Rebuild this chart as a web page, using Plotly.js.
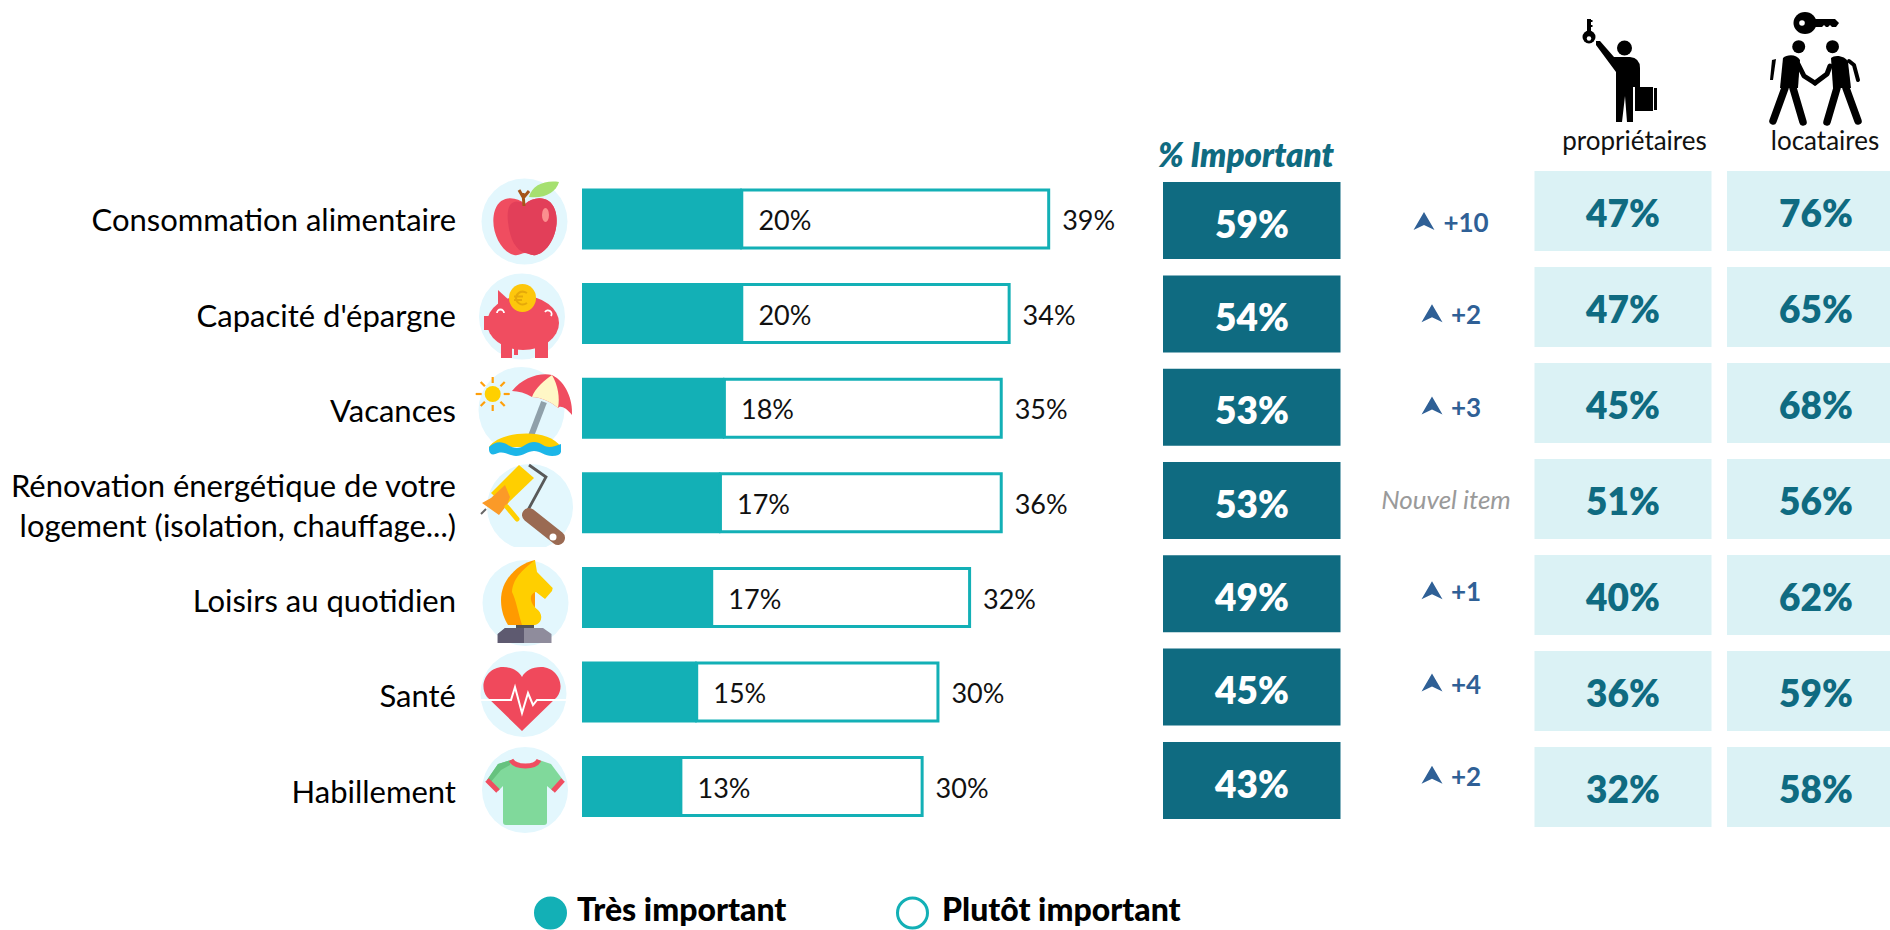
<!DOCTYPE html>
<html><head><meta charset="utf-8">
<script src="https://cdn.plot.ly/plotly-3.0.1.min.js"></script>
<style>html,body{margin:0;padding:0;background:#fff;overflow:hidden}</style>
</head><body><div id="chart" style="width:1890px;height:930px"></div>
<script>
const categories = ["Consommation alimentaire","Capacité d'épargne","Vacances","Rénovation énergétique de votre<br>logement (isolation, chauffage...)","Loisirs au quotidien","Santé","Habillement"];
const tresBar = [20.2,20.2,18,17.5,16.4,14.5,12.5];
const importantTotal = [59,54,53,53,49,45,43];
const tresLabels = [20,20,18,17,17,15,13];
const plutotLabels = [39,34,35,36,32,30,30];
const deltas = [10,2,3,null,1,4,2];
const proprietaires = [47,47,45,51,40,36,32];
const locataires = [76,65,68,56,62,59,58];
const legendNames = ["Très important","Plutôt important"];
const columnHeaders = ["% Important","propriétaires","locataires"];
const newItemLabel = "Nouvel item";

const W=1890,H=930, TEAL="#13b0b6", DARK="#0f6b81", LIGHT="#dbf2f5", BLUE="#2f6096";
const FONT="Lato, 'Open Sans', sans-serif";
const pct=a=>a.map(v=>v+"%");
const rowAxis=(y0,s)=>({type:"category",categoryorder:"array",categoryarray:categories,range:[(H-y0)/s,-y0/s],domain:[0,1],visible:false,fixedrange:true});
const R={bars:[219,94.6,61],dark:[220.6,93.3,77],light:[211,96,80],labels:[220.6,95.2],delta:[223,92.3]};
const pxPerPct=7.91, barX0=582;

const plutotBar=importantTotal.map((t,i)=>t-tresBar[i]);
const common={hoverinfo:"skip",showlegend:false};
const txt=(x,y,text,xa,ya,pos,font)=>({...common,type:"scatter",mode:"text",x,y,text,xaxis:xa,yaxis:ya,textposition:pos,textfont:font,cliponaxis:false});
const reg=(size,color,extra={})=>({family:FONT,size,color,...extra});
const cell=(vals,base,width,ya,h,s,fill)=>({...common,type:"bar",orientation:"h",y:categories,x:vals.map(()=>width),base:vals.map(()=>base),xaxis:"x2",yaxis:ya,width:h/s,marker:{color:fill,line:{width:0}}});

const traces=[
 {...common,type:"bar",orientation:"h",y:categories,x:tresBar,width:R.bars[2]/R.bars[1],marker:{color:TEAL,line:{color:TEAL,width:0}}},
 {...common,type:"bar",orientation:"h",y:categories,x:plutotBar,base:tresBar,width:(R.bars[2]-3)/R.bars[1],marker:{color:"#fff",line:{color:TEAL,width:3}}},
 txt(tresBar.map(v=>v+2.1),categories,pct(tresLabels),"x3","y7","middle right",reg(27,"#111")),
 txt(importantTotal.map(v=>v+1.7),categories,pct(plutotLabels),"x3","y7","middle right",reg(27,"#111")),
 cell(importantTotal,1163,177.5,"y2",R.dark[2],R.dark[1],DARK),
 txt(categories.map(()=>1252),categories,pct(importantTotal),"x2","y8","middle center",reg(37,"#fff",{weight:800})),
 cell(proprietaires,1534.5,177,"y3",R.light[2],R.light[1],LIGHT),
 cell(locataires,1727,177,"y3",R.light[2],R.light[1],LIGHT),
 txt(categories.map(()=>1623),categories,pct(proprietaires),"x2","y9","middle center",reg(37,DARK,{weight:800})),
 txt(categories.map(()=>1816),categories,pct(locataires),"x2","y9","middle center",reg(37,DARK,{weight:800})),
 txt(categories.map(()=>1466),categories,deltas.map(d=>d===null?"":"+"+d),"x2","y5","middle center",reg(26,BLUE,{weight:700})),
 txt([1446],[categories[3]],[newItemLabel],"x2","y5","middle center",reg(26,"#9a9a9a",{style:"italic"})),
 {...common,type:"scatter",mode:"markers",x:categories.map(()=>0),y:categories,xaxis:"x2",yaxis:"y4",marker:{opacity:0,size:1}},
 txt([1246],[159],[columnHeaders[0]],"x2","y6","middle center",reg(33,DARK,{weight:800,style:"italic"})),
 txt([1634.5],[143.5],[columnHeaders[1]],"x2","y6","middle center",reg(26,"#111")),
 txt([1825],[143.5],[columnHeaders[2]],"x2","y6","middle center",reg(26,"#111")),
 {...common,type:"scatter",mode:"markers",x:[550.5,912.5],y:[913,913],xaxis:"x2",yaxis:"y6",cliponaxis:false,
  marker:{size:30,color:[TEAL,"#fff"],line:{color:TEAL,width:3}}},
 txt([577,942],[913,913],legendNames,"x2","y6","middle right",reg(32,"#000",{weight:900}))
];

const icon=(x,y,w,h,body)=>({source:"data:image/svg+xml,"+encodeURIComponent(`<svg xmlns="http://www.w3.org/2000/svg" viewBox="${x} ${y} ${w} ${h}" width="${w}" height="${h}">${body}</svg>`),
 xref:"paper",yref:"paper",x:x/W,y:1-y/H,sizex:w/W,sizey:h/H,sizing:"stretch",xanchor:"left",yanchor:"top",layer:"above"});
const bg=(cx,cy)=>`<circle cx="${cx}" cy="${cy}" r="43" fill="#e3f7fd"/>`;
const apple=bg(524.5,221.5)+`<path d="M525 204C516 196 500 195 495 210C489 228 500 252 514 255C519 256 522 253 525 253C528 253 531 256 536 255C550 252 561 228 555 210C550 195 534 196 525 204Z" fill="#f04d60"/><path d="M525 204C512 197 506 205 508 222C510 240 516 250 525 253C528 253 531 256 536 255C550 252 561 228 555 210C550 195 534 196 525 204Z" fill="#e23f59"/><ellipse cx="545.5" cy="215" rx="3.5" ry="7" fill="#fb8f8f"/><path d="M524 206L523 193M523 197L519 190M524 197L529 191" stroke="#a5561a" stroke-width="3" fill="none"/><path d="M529 197C532 185 545 180 559 182C556 192 545 199 529 197Z" fill="#a6e06f"/>`;
const pig=bg(522,316.5)+`<path d="M498 290L511 302L498 316Z" fill="#f04d60"/><ellipse cx="523" cy="323" rx="36" ry="27" fill="#f04d60"/><rect x="484" y="316" width="14" height="14" fill="#f04d60"/><path d="M501 340H512V358H501ZM535 340H548V358H535ZM514 345H518V355H514Z" fill="#f04d60"/><path d="M497 313a3.5 3.5 0 0 1 7 0M545 312a3.5 3.5 0 0 1 6 4" stroke="#fff" stroke-width="1.8" fill="none"/><ellipse cx="522.5" cy="298" rx="13.5" ry="14" fill="#fdc70c"/><path d="M527 293C520 289 516 295 516 298C516 302 521 307 527 303M514 296.5H523M514 300H522" stroke="#e5a90a" stroke-width="2" fill="none"/>`;
const ray=(a)=>{const c=Math.cos(a),s=Math.sin(a);return `<line x1="${492.7+11*c}" y1="${394+11*s}" x2="${492.7+17*c}" y2="${394+17*s}" stroke="#ff9f0a" stroke-width="2.2"/>`};
const vac=bg(521.5,410)+[0,1,2,3,4,5,6,7].map(k=>ray(k*Math.PI/4)).join("")+`<circle cx="492.7" cy="394" r="8" fill="#ffd000"/><line x1="544" y1="402" x2="531" y2="436" stroke="#8fa0aa" stroke-width="6"/><path d="M512 391C522 378 540 372 552 375C566 382 573 400 572 415C566 407 560 405 558 408C550 401 540 397 532 397C526 393 518 391 512 391Z" fill="#f04d60"/><path d="M552 375C545 380 535 388 532 397C540 397 550 401 558 408C560 398 558 385 552 375Z" fill="#fff7c6"/><path d="M489 447C500 431 548 427 561 447Z" fill="#ffcf00"/><path d="M489 447C495 441 502 441 508 445C514 449 520 449 525 445C531 441 537 441 543 445C549 449 555 446 561 444V452Q560 456 552 456C545 456 540 451 534 451C528 451 523 456 516 456C510 456 505 451 498 453Q490 457 489 450Z" fill="#1cb6e8"/>`;
const roller=`<defs><clipPath id="c"><rect x="470" y="455" width="110" height="92"/></clipPath></defs><circle cx="530" cy="507" r="43" fill="#e3f7fd" clip-path="url(#c)"/><path d="M529 465L546 477L528 510L537 517" stroke="#595959" stroke-width="2.8" fill="none"/><path d="M529 515L558 538" stroke="#9a6a52" stroke-width="14" stroke-linecap="round"/><circle cx="553" cy="537" r="3.5" fill="#fff"/><path d="M519 465L534 478L505 506L491 493Z" fill="#ffcf00"/><path d="M491 498L505 485L510 497L507 505L499 515L482 503Z" fill="#fb9a28"/><path d="M507 507L517 519" stroke="#ffcf00" stroke-width="5" stroke-linecap="round"/><path d="M481 514L486 509" stroke="#666" stroke-width="2"/>`;
const knight=bg(525.5,603)+`<path d="M516 624H534V628H516Z" fill="#555"/><path d="M505 628H543L551.5 634V643H497.7V634Z" fill="#8f8c9c"/><path d="M505 628H524V643H497.7V634Z" fill="#5e5a70"/><path d="M535 560C520 563 501 578 501 600C501 612 505 620 508 625H535Z" fill="#ff9a00"/><path d="M535 560L537 572L552.7 588L552 591L545 599L536 592C528 594 530 604 538 610C544 616 541 624 535 625H522C518 612 516 600 512 592C513 577 525 568 535 560Z" fill="#ffcf00"/>`;
const heart=bg(523.5,694)+`<path d="M522 731L487 697C478 685 487 667 503 667C512 667 519 671 522 677C525 671 532 667 541 667C557 667 566 685 557 697Z" fill="#f0495c"/><path d="M481 700H511L515 687L522 713L528 693L533 705L537 700H566" stroke="#fff" stroke-width="2" fill="none"/>`;
const tee=bg(525,790)+`<path d="M511 760L498 764L487 780L498 791L503 786V822Q503 825 506 825H544Q547 825 547 822V786L553 791L563 780L551 764L539 760C535 768 516 768 511 760Z" fill="#80d99b"/><path d="M511 760L498 764L487 780L490 783L501 770L510 765Z" fill="#66c27f"/><path d="M511 760C516 768 535 768 539 760" stroke="#f04d60" stroke-width="5" fill="none"/><path d="M487 780L498 791M553 791L563 780" stroke="#f04d60" stroke-width="5"/>`;
const owner=`<g fill="#000" stroke="none"><circle cx="1589" cy="37" r="6.5"/><rect x="1587" y="19" width="4" height="14"/><rect x="1590" y="20" width="2.5" height="2"/><rect x="1590" y="25" width="2.5" height="2"/><circle cx="1624.5" cy="48" r="7.5"/><path d="M1596 41L1600 41L1614 57H1630Q1640 58 1640 68V87H1633V122H1627L1625 96L1622 122H1616V72L1596 45Z"/><path d="M1635 87H1653V111H1635ZM1654 88H1657V110H1654Z"/></g><circle cx="1589" cy="38.5" r="2.2" fill="#fff"/>`;
const st=(d,w)=>`<path d="${d}" stroke="#000" stroke-width="${w}" stroke-linecap="round" stroke-linejoin="round" fill="none"/>`;
const renters=`<g fill="#000"><ellipse cx="1805" cy="23" rx="11.5" ry="11"/><path d="M1812 19H1835L1839 23L1836 27H1832L1830 25L1828 27H1826L1824 25L1822 27H1812Z"/><circle cx="1798.7" cy="46.7" r="6.5"/><circle cx="1832.5" cy="46.7" r="6.5"/><path d="M1783 58C1787 54 1797 54 1800 60L1798 88H1780Z"/><path d="M1831 58C1835 54 1846 56 1848 62L1851 88H1833Z"/><path d="M1772 60L1776 59L1773 80L1770 80Z"/></g>`+st("M1798 64L1804 76L1815 83",5)+st("M1830 66L1827 74L1815 83",5)+st("M1849 61L1854 65L1858 80",4)+st("M1785 88L1773 121",7.5)+st("M1793 88L1803 122",7.5)+st("M1837 88L1827 122",7.5)+st("M1846 88L1858 121",7.5)+`<circle cx="1802" cy="23" r="2.8" fill="#fff"/>`;
const arrow=(cx,cy)=>`<path d="M${cx} ${cy-9}L${cx+10.5} ${cy+9}L${cx} ${cy+4}L${cx-10.5} ${cy+9}Z" fill="${BLUE}"/>`;
const deltaCenterY=i=>R.delta[0]+i*R.delta[1];
const arrowImages=deltas.map((d,i)=>{ if(d===null) return null; const cx=String(d).length>1?1424:1432, cy=deltaCenterY(i)-2; return icon(cx-12,cy-11,24,22,arrow(cx,cy)); }).filter(Boolean);

const images=[icon(475,170,100,105,apple),icon(475,270,100,95,pig),icon(470,362,110,100,vac),icon(470,455,110,95,roller),icon(478,555,95,93,knight),icon(478,648,95,93,heart),icon(478,744,95,93,tee),icon(1575,10,90,120,owner),icon(1760,5,110,125,renters),...arrowImages];

const layout={width:W,height:H,margin:{l:0,r:0,t:0,b:0},paper_bgcolor:"#fff",plot_bgcolor:"rgba(0,0,0,0)",barmode:"overlay",showlegend:false,font:{family:FONT},
 xaxis:{domain:[barX0/W,1],range:[0,(W-barX0)/pxPerPct],visible:false,fixedrange:true},
 xaxis2:{domain:[0,1],range:[0,W],visible:false,fixedrange:true},
 xaxis3:{domain:[barX0/W,1],range:[0,(W-barX0)/pxPerPct],visible:false,fixedrange:true},
 yaxis:{...rowAxis(R.bars[0],R.bars[1])},
 yaxis2:{...rowAxis(R.dark[0],R.dark[1]),anchor:"x2"},
 yaxis3:{...rowAxis(R.light[0],R.light[1]),anchor:"x2"},
 yaxis4:{...rowAxis(R.labels[0],R.labels[1]),visible:true,anchor:"free",position:456/W,showline:false,showgrid:false,zeroline:false,ticks:"",ticklen:0,tickfont:reg(31,"#000"),tickmode:"array",tickvals:categories,ticktext:categories},
 yaxis5:{...rowAxis(R.delta[0]+2.5,R.delta[1]),anchor:"x2"},
 yaxis6:{domain:[0,1],range:[H,0],visible:false,anchor:"x2",fixedrange:true},
 yaxis7:{...rowAxis(R.bars[0]+4.5,R.bars[1]),anchor:"x3"},
 yaxis8:{...rowAxis(R.dark[0]+8,R.dark[1]),anchor:"x2"},
 yaxis9:{...rowAxis(R.light[0]+7,R.light[1]),anchor:"x2"},
 images};
Plotly.newPlot("chart",traces,layout,{displayModeBar:false,staticPlot:true});
</script></body></html>
